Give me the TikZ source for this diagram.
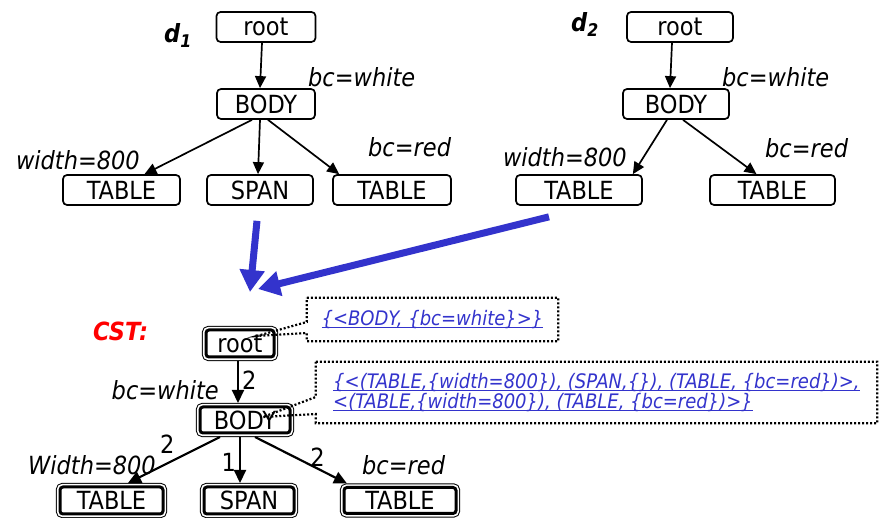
\documentclass[tikz,border=0pt]{standalone}
\usepackage{fontspec}
\setmainfont{DejaVu Sans Condensed}
\usetikzlibrary{arrows.meta,positioning}

\definecolor{linkblue}{RGB}{51,51,204}
\newcommand{\ulin}[1]{\setbox0=\hbox{#1}\rlap{\rule[-3pt]{\wd0}{1pt}}\box0}

\begin{document}
\begin{tikzpicture}[x=1pt,y=1pt,
    every node/.style={font=\fontsize{25}{28}\selectfont},
    tbox/.style={draw,rounded corners=4pt,line width=1.7pt,inner sep=0pt,minimum height=30pt,minimum width=#1},
    cbox/.style={draw,fill=white,rounded corners=3pt,line width=3pt,inner sep=0pt,outer sep=4pt,minimum height=27pt,minimum width=#1,
                 preaction={draw,line width=8.4pt},preaction={draw=white,line width=6.4pt}},
    attr/.style={font=\fontsize{25}{28}\selectfont\itshape,inner sep=0pt},
    num/.style={inner sep=3pt},
    arr/.style={->,line width=1.7pt,>={Triangle[length=12pt,width=11pt]}},
    carr/.style={->,line width=2.2pt,>={Triangle[length=13pt,width=12pt]}},
    merge/.style={->,linkblue,line width=7pt,>={Triangle[length=22pt,width=24pt]}},
    dots/.style={line width=2.2pt,dash pattern=on 2pt off 2pt},
    note/.style={inner sep=0pt,align=left,text=linkblue,font=\fontsize{20}{20}\selectfont\itshape}]
\useasboundingbox (0,0) rectangle (879,518);

% d1
\node[font=\fontsize{25}{28}\selectfont\bfseries\itshape,anchor=base west,inner sep=0pt] (d1) at (164,475) {d\textsubscript{1}};
\node[tbox=99pt] (r1) at (266,491) {root};
\node[tbox=98pt] (b1) at (266,414) {BODY};
\node[tbox=117pt] (t1) at (121.5,328) {TABLE};
\node[tbox=106pt] (s1) at (260,328) {SPAN};
\node[tbox=118pt] (u1) at (392,328) {TABLE};
\draw[arr] ([xshift=-4pt]r1.south) -- ([xshift=-6pt]b1.north);
\draw[arr] ([xshift=-14pt]b1.south) -- ([xshift=23pt]t1.north);
\draw[arr] ([xshift=-6pt]b1.south) -- ([xshift=-2pt]s1.north);
\draw[arr] ([xshift=2pt]b1.south) -- ([xshift=7pt]u1.north west);
\node[attr,anchor=base west] (w1) at (308,431) {bc=white};
\node[attr,anchor=base east] (wd1) at (140,348) {width=800};
\node[attr,anchor=base west] (rd1) at (368,361) {bc=red};

% d2
\node[font=\fontsize{25}{28}\selectfont\bfseries\itshape,anchor=base west,inner sep=0pt] (d2) at (571,486) {d\textsubscript{2}};
\node[tbox=106pt] (r2) at (680,491) {root};
\node[tbox=106pt] (b2) at (676,414) {BODY};
\node[tbox=126pt] (t2) at (579,328) {TABLE};
\node[tbox=125pt] (u2) at (772.5,328) {TABLE};
\draw[arr] ([xshift=-8pt]r2.south) -- ([xshift=-6pt]b2.north);
\draw[arr] ([xshift=-9pt]b2.south) -- ([xshift=-10pt]t2.north east);
\draw[arr] ([xshift=7pt]b2.south) -- ([xshift=-16pt]u2.north);
\node[attr,anchor=base west] (w2) at (722,431) {bc=white};
\node[attr,anchor=base east] (wd2) at (627,351) {width=800};
\node[attr,anchor=base west] (rd2) at (765,360) {bc=red};

% merge
\coordinate (m1) at (250,226);
\coordinate (m2) at (258,229);
\draw[merge] ([shift={(-3pt,-15pt)}]s1.south) -- (m1);
\draw[merge] ([shift={(-30pt,-11pt)}]t2.south) -- (m2);

% CST
\node[font=\fontsize{25}{28}\selectfont\bfseries\itshape,text=red,anchor=base west,inner sep=0pt] (cst) at (93,177) {CST:};
\node[cbox=68pt] (cr) at (240,174.5) {root};
\node[cbox=90pt,minimum height=26pt] (cb) at (245,98) {BODY};
\node[cbox=103pt] (ct1) at (111.5,17.5) {TABLE};
\node[cbox=90pt] (cs) at (249,17.5) {SPAN};
\node[cbox=112pt,minimum height=26pt] (ct2) at (400,17.5) {TABLE};
\draw[carr] ([xshift=-2pt]cr.south) -- node[num,right,pos=.45] {2} ([xshift=-7pt]cb.north);
\draw[carr] ([xshift=-25pt]cb.south) -- node[num,above left,pos=.45] {2} ([xshift=16.5pt]ct1.north);
\draw[carr] ([xshift=-5pt]cb.south) -- node[num,left,pos=.55] {1} ([xshift=-9pt]cs.north);
\draw[carr] ([xshift=10pt]cb.south) -- node[num,above,pos=.68,inner sep=1pt] {2} ([xshift=-53pt]ct2.north);
\node[attr,anchor=base east] (cw) at (219,118) {bc=white};
\node[attr,anchor=base east] (cwd) at (156,43) {Width=800};
\node[attr,anchor=base west] (crd) at (362,43) {bc=red};

% callouts
\node[note,minimum width=251pt,minimum height=43pt] (c1) at (432.5,198.5) {\ulin{\{<BODY, \{bc=white\}>\}}};
\node[note,minimum width=561pt,minimum height=61pt] (c2) at (596.5,125.5)
  {\ulin{\{<(TABLE,\{width=800\}), (SPAN,\{\}), (TABLE, \{bc=red\})>,}\\\ulin{<(TABLE,\{width=800\}), (TABLE, \{bc=red\})>\}}};
\draw[dots] (c1.north west) -- (c1.north east) -- (c1.south east) -- (c1.south west)
  -- ([yshift=-13.5pt]c1.west) -- ([shift={(17pt,7.5pt)}]cr.center) -- ([yshift=-2.5pt]c1.west) -- cycle;
\draw[dots] (c2.north west) -- (c2.north east) -- (c2.south east) -- (c2.south west)
  -- ([yshift=-21.5pt]c2.west) -- ([shift={(18pt,3pt)}]cb.center) -- ([yshift=-4.5pt]c2.west) -- cycle;

\end{tikzpicture}
\end{document}
